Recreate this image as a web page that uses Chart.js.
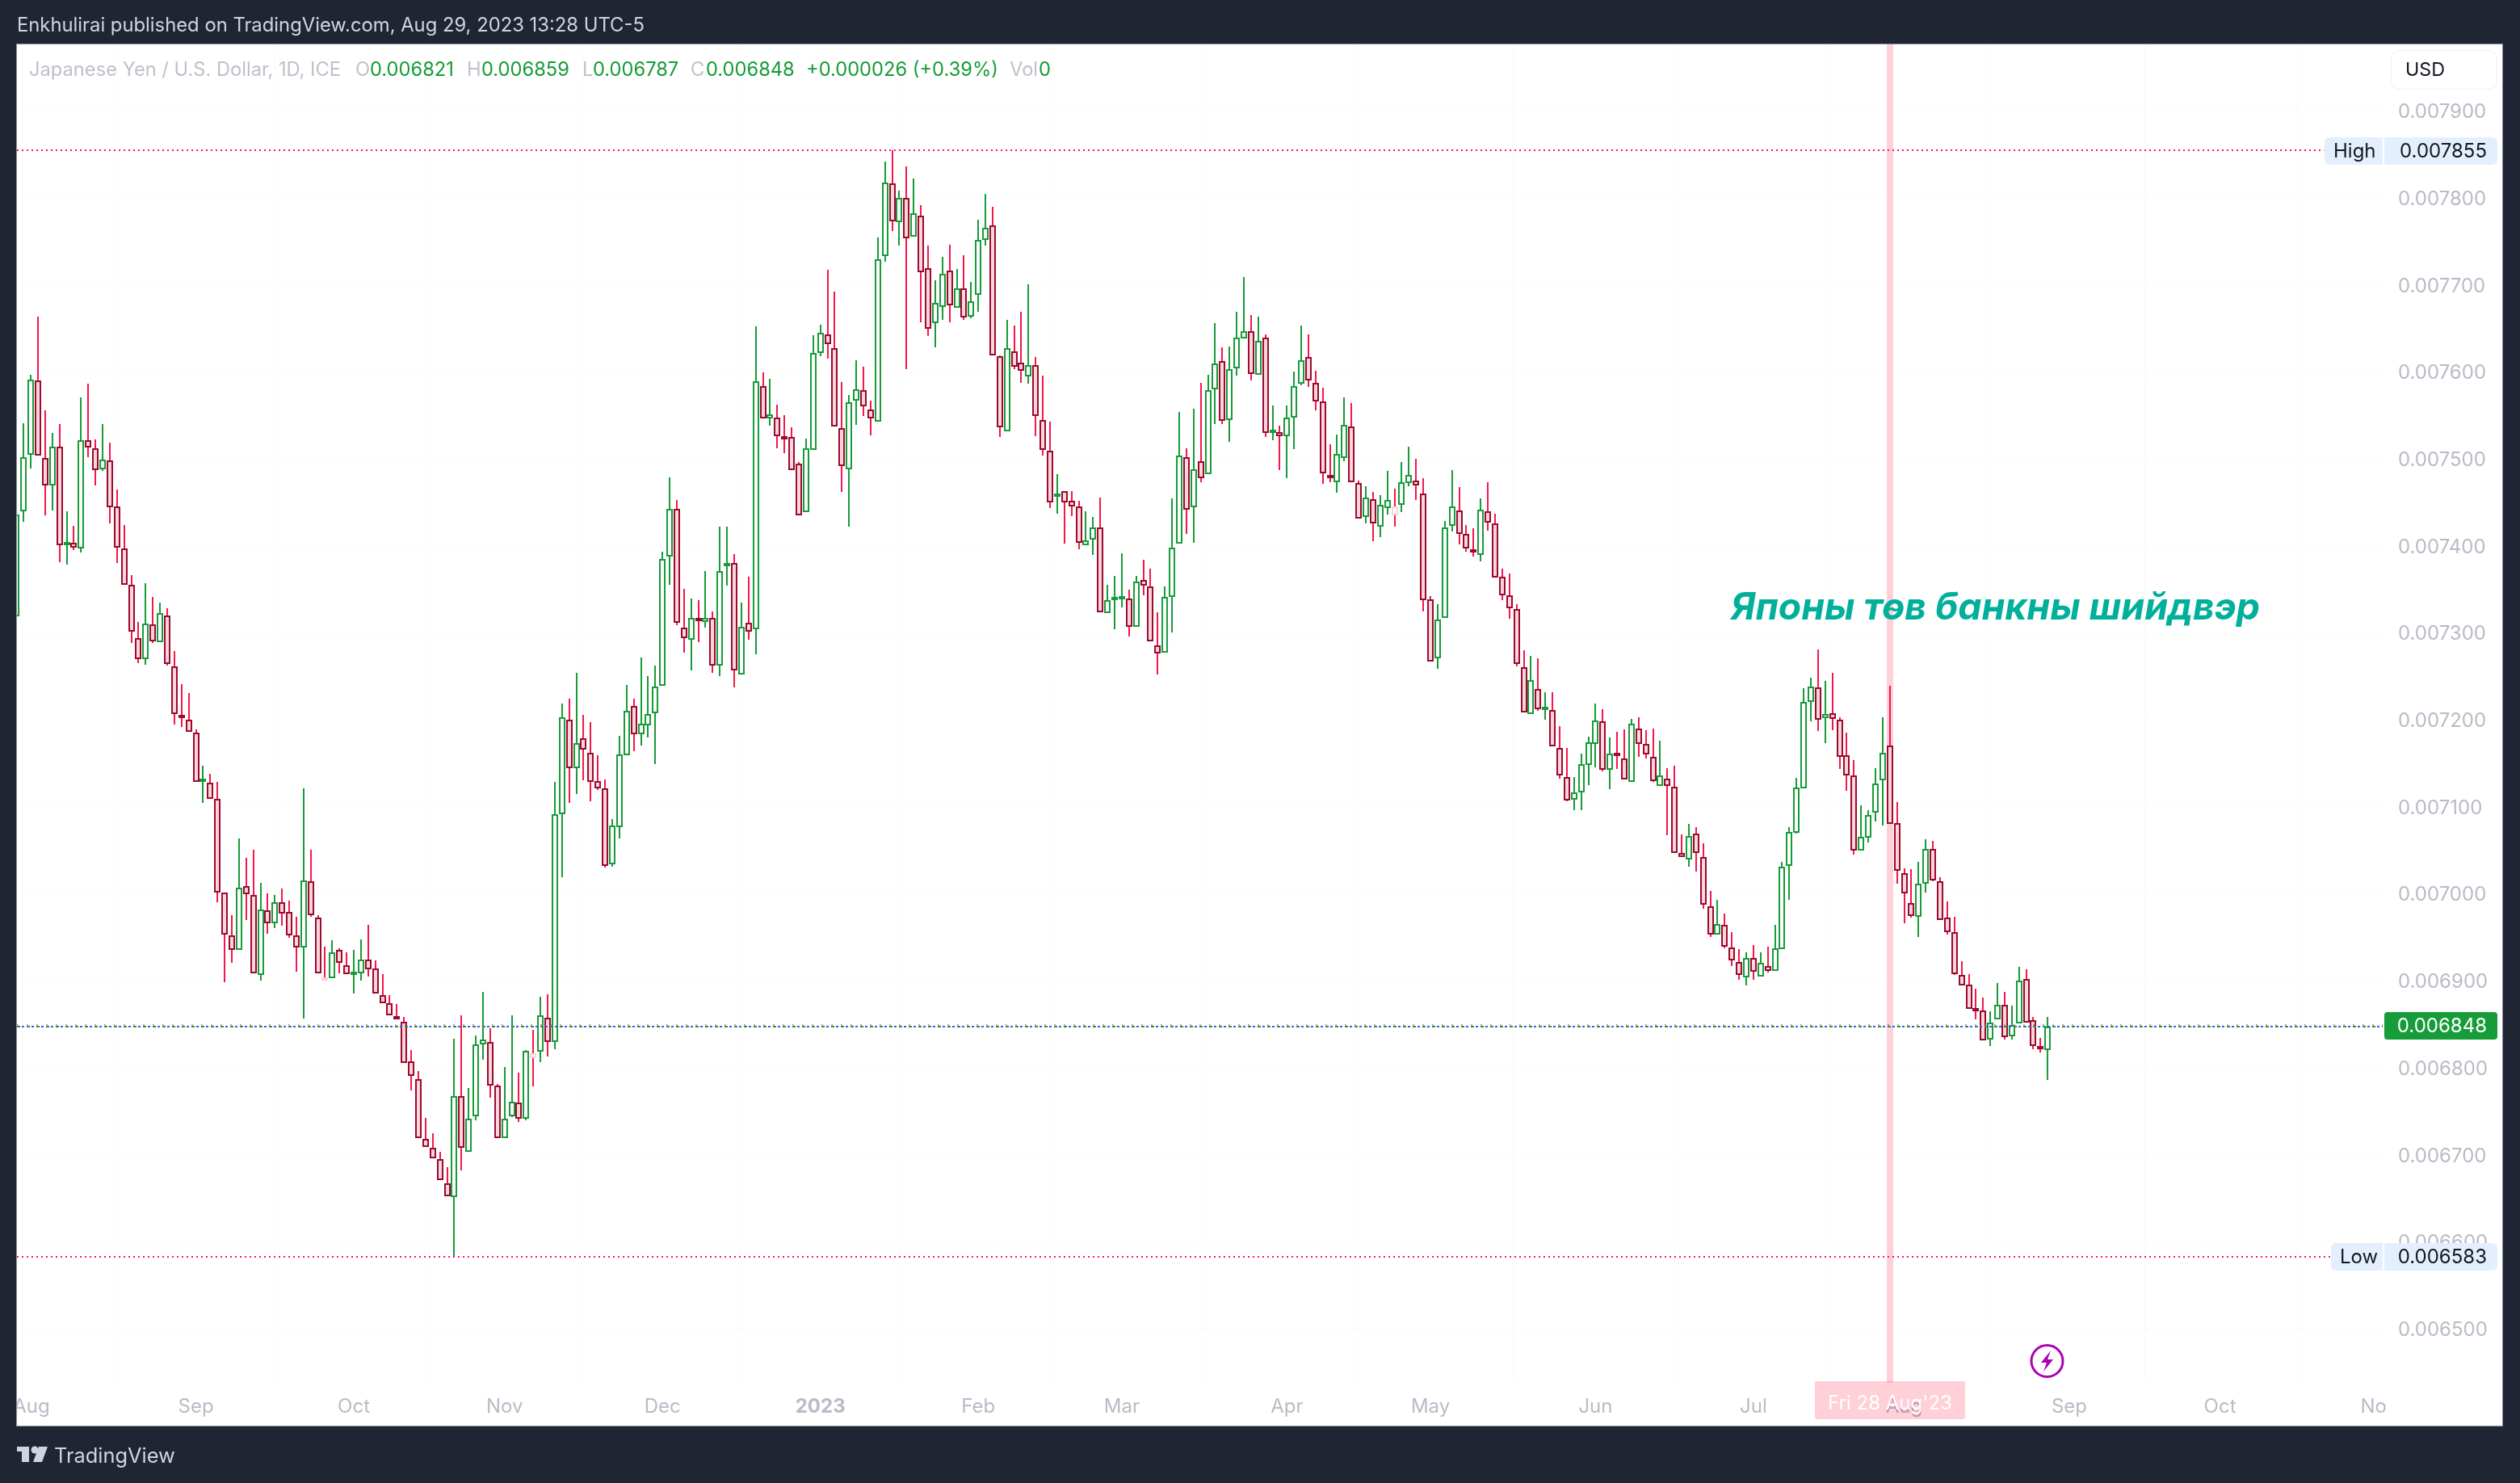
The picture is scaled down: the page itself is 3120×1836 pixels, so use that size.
<!DOCTYPE html>
<html><head><meta charset="utf-8">
<style>html,body{margin:0;padding:0;background:#1f2533}canvas{display:block}</style>
<script src="https://cdn.jsdelivr.net/npm/chart.js@4"></script>
</head><body><canvas id="c" width="3120" height="1836" style="width:3120px;height:1836px"></canvas>
<script>
// Prices in millionths of a USD per JPY
const priceUnit = 1e-6;
const opens = [7320,7440,7505,7591,7502,7470,7515,7401,7404,7398,7522,7513,7489,7499,7446,7398,7356,7295,7270,7310,7290,7321,7262,7205,7201,7186,7129,7128,7110,7002,6953,6936,7010,6999,6907,6982,6967,6991,6980,6953,6939,7015,6973,6904,6904,6936,6919,6907,6909,6925,6915,6884,6875,6859,6854,6808,6788,6719,6709,6696,6668,6652,6768,6704,6745,6828,6830,6780,6720,6745,6761,6742,6817,6819,6858,6830,7092,7201,7145,7179,7163,7130,7122,7035,7077,7160,7217,7184,7194,7208,7240,7388,7443,7307,7293,7317,7313,7318,7263,7377,7381,7253,7312,7305,7584,7547,7548,7527,7526,7495,7439,7511,7622,7644,7628,7536,7489,7568,7580,7557,7543,7734,7817,7773,7801,7756,7780,7720,7657,7675,7717,7674,7697,7664,7689,7752,7769,7619,7532,7624,7611,7595,7608,7545,7510,7457,7464,7452,7446,7401,7408,7422,7323,7338,7339,7340,7308,7361,7354,7286,7278,7342,7403,7503,7445,7498,7483,7581,7613,7545,7605,7639,7647,7597,7640,7530,7531,7527,7548,7587,7618,7588,7567,7480,7474,7502,7538,7473,7434,7454,7423,7444,7446,7448,7473,7476,7461,7339,7271,7318,7424,7441,7414,7395,7390,7440,7426,7365,7344,7328,7261,7207,7236,7212,7212,7168,7135,7109,7117,7149,7173,7199,7143,7161,7156,7129,7191,7173,7158,7125,7133,7124,7048,7040,7070,7043,6986,6954,6965,6939,6922,6905,6927,6906,6918,6912,6937,7033,7071,7122,7221,7238,7203,7208,7201,7160,7137,7050,7065,7094,7131,7171,7082,7024,6990,6974,7012,7052,7015,6973,6957,6907,6896,6869,6867,6833,6856,6873,6837,6852,6903,6855,6826,6821];
const highs = [7449,7542,7597,7664,7556,7530,7541,7440,7424,7571,7587,7523,7541,7519,7465,7425,7367,7313,7358,7342,7335,7329,7280,7242,7231,7190,7148,7139,7129,7002,6976,7064,7042,7051,7013,7001,6999,7007,6993,6974,7122,7051,6976,6940,6947,6938,6933,6936,6948,6965,6924,6908,6884,6874,6859,6821,6797,6743,6725,6704,6686,6834,6861,6777,6838,6888,6846,6782,6802,6861,6795,6821,6844,6882,6885,7129,7219,7225,7255,7206,7198,7160,7132,7087,7182,7241,7225,7272,7251,7263,7394,7479,7453,7351,7340,7338,7372,7325,7423,7423,7391,7335,7365,7653,7600,7593,7563,7551,7537,7497,7524,7643,7655,7718,7693,7589,7574,7614,7607,7568,7755,7842,7855,7809,7837,7823,7792,7746,7706,7733,7747,7719,7735,7704,7776,7805,7790,7620,7660,7654,7670,7701,7618,7596,7543,7483,7464,7464,7452,7440,7434,7456,7356,7366,7392,7350,7366,7385,7374,7324,7354,7455,7555,7513,7558,7588,7597,7657,7629,7630,7670,7710,7666,7664,7644,7562,7539,7562,7601,7654,7644,7602,7582,7517,7529,7571,7565,7476,7469,7463,7459,7487,7466,7497,7515,7501,7478,7343,7334,7429,7488,7468,7425,7421,7455,7474,7438,7374,7369,7334,7281,7274,7271,7232,7232,7193,7168,7135,7162,7181,7219,7213,7180,7187,7190,7202,7204,7189,7191,7177,7145,7148,7069,7081,7077,7059,7004,6994,6978,6957,6937,6933,6942,6933,6940,6965,7037,7077,7134,7237,7249,7282,7245,7255,7204,7186,7154,7102,7097,7145,7204,7240,7106,7030,7029,7037,7063,7062,7020,6992,6974,6923,6908,6892,6881,6866,6898,6888,6872,6917,6914,6859,6835,6859];
const lows = [7320,7428,7490,7504,7436,7441,7382,7379,7396,7393,7503,7470,7487,7426,7381,7356,7289,7266,7264,7289,7290,7263,7195,7192,7187,7129,7105,7110,6991,6899,6921,6936,6971,6909,6901,6955,6961,6964,6950,6911,6857,6974,6909,6901,6904,6909,6908,6886,6901,6906,6886,6875,6861,6856,6806,6775,6720,6710,6697,6672,6653,6583,6683,6704,6740,6810,6766,6720,6720,6744,6738,6740,6779,6807,6814,6822,7020,7105,7115,7131,7107,7120,7031,7032,7064,7160,7165,7171,7180,7150,7240,7356,7309,7278,7257,7290,7307,7255,7251,7355,7238,7253,7293,7276,7547,7539,7513,7507,7488,7436,7439,7511,7619,7616,7538,7463,7423,7540,7550,7528,7543,7727,7763,7746,7604,7756,7658,7642,7629,7660,7658,7674,7660,7662,7670,7746,7620,7526,7532,7604,7588,7587,7527,7504,7444,7438,7403,7435,7397,7401,7390,7324,7323,7305,7330,7296,7308,7344,7291,7253,7278,7301,7403,7414,7404,7474,7483,7541,7541,7520,7596,7639,7591,7597,7526,7522,7488,7478,7512,7585,7583,7556,7472,7474,7462,7498,7474,7432,7426,7406,7411,7437,7423,7439,7469,7453,7325,7268,7259,7318,7417,7402,7394,7388,7383,7418,7364,7338,7317,7262,7209,7207,7211,7201,7170,7133,7107,7097,7097,7126,7146,7141,7121,7144,7132,7129,7158,7156,7129,7125,7068,7048,7043,7032,7026,6984,6951,6954,6938,6918,6902,6895,6902,6906,6910,6912,6937,6994,7070,7122,7199,7188,7174,7189,7144,7119,7046,7050,7060,7084,7079,7081,7012,6967,6973,6951,7002,7015,6971,6954,6907,6895,6868,6856,6832,6826,6856,6833,6833,6852,6853,6822,6818,6787];
const closes = [7437,7503,7592,7504,7470,7515,7401,7404,7399,7522,7514,7488,7500,7445,7399,7356,7302,7270,7311,7291,7323,7265,7207,7203,7187,7129,7132,7110,7002,6954,6936,7008,7000,6909,6983,6967,6991,6978,6953,6939,7016,6976,6909,6901,6933,6921,6908,6908,6925,6914,6886,6875,6861,6856,6806,6791,6720,6710,6697,6672,6653,6768,6709,6742,6828,6833,6780,6720,6742,6762,6742,6820,6812,6861,6830,7092,7204,7145,7174,7166,7129,7122,7033,7079,7161,7211,7184,7196,7207,7239,7386,7443,7312,7295,7318,7314,7318,7263,7372,7380,7257,7308,7302,7590,7547,7552,7527,7523,7488,7436,7513,7622,7646,7633,7538,7492,7566,7581,7561,7547,7730,7818,7774,7801,7754,7783,7715,7650,7680,7713,7677,7697,7663,7682,7752,7766,7620,7537,7628,7607,7602,7608,7550,7511,7451,7461,7451,7446,7404,7407,7422,7324,7338,7339,7341,7308,7360,7355,7291,7277,7342,7399,7504,7442,7489,7478,7580,7610,7544,7604,7640,7647,7598,7636,7530,7531,7527,7548,7584,7614,7591,7567,7484,7478,7506,7540,7474,7432,7456,7426,7448,7453,7436,7474,7482,7470,7338,7268,7316,7422,7446,7414,7398,7393,7442,7427,7364,7344,7329,7265,7209,7246,7213,7216,7170,7137,7108,7117,7150,7175,7200,7143,7162,7159,7132,7196,7173,7161,7130,7137,7125,7048,7043,7067,7048,6988,6954,6966,6940,6924,6907,6927,6911,6921,6912,6938,7032,7072,7123,7221,7239,7201,7207,7202,7158,7137,7050,7066,7091,7127,7163,7081,7027,7001,6975,7012,7052,7016,6971,6957,6908,6895,6868,6866,6832,6853,6873,6836,6850,6901,6853,6826,6822,6848];
const paleCandles = [43, 72, 192];
const crosshairIndex = 261;
const monthTickLabels = ['Aug','Sep','Oct','Nov','Dec','2023','Feb','Mar','Apr','May','Jun','Jul','Aug','Sep','Oct','No'];
const monthTickIndex = [2.1,25,47,68,90,112,134,154,177,197,220,242,263,286,307,328.4];
const priceTickLabels = ['0.007900','0.007800','0.007700','0.007600','0.007500','0.007400','0.007300','0.007200','0.007100','0.007000','0.006900','0.006800','0.006700','0.006600','0.006500'];
const highPrice = 0.007855, lowPrice = 0.006583, lastPrice = 0.006848, lastPinkPrice = 0.006850;

const xMin = 0.07, xMax = 329.67, yMin = 0.0064385, yMax = 0.00797706;
const C = {dark:'#1f2533', up:'#169c38', wickDn:'#f5174b', bodyDn:'#990b2f', fillDn:'#ffd5dc', pale:'#ffd2da', grey:'#b9bbc6', ink:'#131722', pill:'#e3effd', hot:'#f7127a', blue:'#2962ff', teal:'#00b09b', purple:'#ab00b5', cross:'#ffd0d8'};
const FONT = 'Inter, "Noto Sans", sans-serif';
const isUp = i => closes[i] >= opens[i];
const isPale = i => paleCandles.includes(i);
const idx = opens.map((_, i) => i);

const snap = {
  id: 'snap',
  afterDatasetsUpdate(chart) {
    chart.getSortedVisibleDatasetMetas().forEach(meta => {
      meta.data.forEach(el => {
        if (meta.type === 'bar') {
          el.x = Math.round(el.x);
          el.y = Math.round(el.y);
          el.base = Math.round(el.base);
        } else {
          el.y = Math.round(el.y);
        }
      });
    });
  }
};

function rr(ctx, x, y, w, h, r, fill) {
  ctx.beginPath(); ctx.roundRect(x, y, w, h, r); ctx.fillStyle = fill; ctx.fill();
}
function txt(ctx, s, x, y, color, font, align) {
  ctx.font = font || ('24px ' + FONT); ctx.fillStyle = color; ctx.textAlign = align || 'left'; ctx.textBaseline = 'middle';
  ctx.fillText(s, x, y);
}
const frame = {
  id: 'frame',
  beforeDraw(chart) {
    const ctx = chart.ctx;
    chart.scales.y.getLabelItems().forEach(it => { if (!it.shifted) { it.options.translation = [it.options.translation[0], it.options.translation[1] + 1]; it.shifted = true; } });
    ctx.save();
    ctx.fillStyle = C.dark; ctx.fillRect(0, 0, 3120, 1836);
    ctx.fillStyle = '#ffffff'; ctx.fillRect(21, 55, 3077, 1710);
    ctx.restore();
  },
  afterDraw(chart) {
    const ctx = chart.ctx, ys = chart.scales.y;
    ctx.save();
    // pane edges
    ctx.fillStyle = C.dark; ctx.fillRect(0, 1700, 20, 80);
    ctx.strokeStyle = '#8d91a0'; ctx.lineWidth = 1; ctx.strokeRect(20.5, 54.5, 3078, 1711);
    // header & footer
    txt(ctx, 'Enkhulirai published on TradingView.com, Aug 29, 2023 13:28 UTC-5', 21, 32, '#d1d4dc', '23.8px ' + FONT);
    txt(ctx, 'TradingView', 67, 1803, '#d1d4dc', '25.4px ' + FONT);
    ctx.fillStyle = '#d1d4dc';
    ctx.fillRect(21, 1791, 15, 6); ctx.fillRect(27, 1791, 9, 19);
    ctx.beginPath(); ctx.arc(43, 1795, 4.5, 0, 7); ctx.fill();
    ctx.beginPath(); ctx.moveTo(48, 1791); ctx.lineTo(59, 1791); ctx.lineTo(52, 1810); ctx.lineTo(41, 1810); ctx.fill();
    // legend line
    const g = C.up, gr = '#bfc1ca', f = '23.7px ' + FONT;
    [['Japanese Yen / U.S. Dollar, 1D, ICE',36,gr],['O',440,gr],['0.006821',458,g],['H',578,gr],['0.006859',596,g],['L',721,gr],['0.006787',734,g],['C',855,gr],['0.006848',874,g],['+0.000026 (+0.39%)',998,g],['Vol',1250,gr],['0',1286,g]]
      .forEach(t => txt(ctx, t[0], t[1], 86.5, t[2], f));
    // USD button
    ctx.beginPath(); ctx.roundRect(2960.5, 62.5, 131, 48, 10); ctx.fillStyle = '#fff'; ctx.fill(); ctx.strokeStyle = '#eef0f5'; ctx.lineWidth = 1; ctx.stroke();
    txt(ctx, 'USD', 2978, 86.5, C.ink, '23.3px ' + FONT);
    // price pills
    const yH = Math.round(ys.getPixelForValue(highPrice)) + 1, yL = Math.round(ys.getPixelForValue(lowPrice)), yC = Math.round(ys.getPixelForValue(lastPrice));
    rr(ctx, 2878, yH - 17, 72, 34, [6,0,0,6], C.pill);
    rr(ctx, 2952, yH - 17, 140, 34, [0,6,6,0], C.pill);
    txt(ctx, 'High', 2889, yH + 1, C.ink); txt(ctx, '0.007855', 3079, yH + 1, C.ink, null, 'right');
    rr(ctx, 2886, yL - 17, 64, 34, [6,0,0,6], C.pill);
    rr(ctx, 2952, yL - 17, 140, 34, [0,6,6,0], C.pill);
    txt(ctx, 'Low', 2897, yL + 1, C.ink); txt(ctx, '0.006583', 3079, yL + 1, C.ink, null, 'right');
    rr(ctx, 2952, yC - 18, 140, 34, 4, C.up);
    txt(ctx, '0.006848', 3079, yC, '#ffffff', null, 'right');
    // annotation
    txt(ctx, 'Японы төв банкны шийдвэр', 2143, 753, C.teal, 'italic 700 46.3px ' + FONT);
    // crosshair date label
    ctx.globalCompositeOperation = 'multiply';
    rr(ctx, 2247, 1710, 186, 47, [0,0,3,3], C.cross);
    ctx.globalCompositeOperation = 'source-over';
    txt(ctx, "Fri 28 Aug'23", 2340, 1738, '#ffffff', null, 'center');
    // lightning icon
    ctx.beginPath(); ctx.arc(2534.5, 1685, 19.5, 0, 7); ctx.strokeStyle = C.purple; ctx.lineWidth = 3; ctx.stroke();
    ctx.beginPath();
    [[2539,1672],[2527,1687],[2534,1687],[2530,1698],[2542,1683],[2535,1683]].forEach((p,i)=> i ? ctx.lineTo(p[0],p[1]) : ctx.moveTo(p[0],p[1]));
    ctx.closePath(); ctx.fillStyle = C.purple; ctx.fill();
    ctx.restore();
  }
};

const px = v => v * priceUnit;
const hLine = (y, x1, color, dash, offset, width) => ({
  type:'line', order:0, parsing:false,
  data:[{x:xMin,y},{x:x1,y}],
  borderColor:color, borderWidth:width||2, borderDash:dash, borderDashOffset:offset||0,
  pointRadius:0, fill:false, tension:0
});

new Chart(document.getElementById('c'), {
  type:'bar',
  plugins:[snap, frame],
  data:{ datasets:[
    { label:'wick', order:2, grouped:false, barThickness:2, inflateAmount:0, borderWidth:0,
      data:idx.map(i=>({x:i,y:[px(lows[i]),px(highs[i])]})),
      backgroundColor:c=>isUp(c.dataIndex)?C.up:C.wickDn },
    { label:'body', order:1, grouped:false, barThickness:8, inflateAmount:0, borderWidth:2, borderSkipped:false, minBarLength:4,
      data:idx.map(i=>({x:i,y:[px(Math.min(opens[i],closes[i])),px(Math.max(opens[i],closes[i]))]})),
      borderColor:c=>isPale(c.dataIndex)?C.pale:(isUp(c.dataIndex)?C.up:C.bodyDn),
      backgroundColor:c=>isPale(c.dataIndex)?'#ffffff':(isUp(c.dataIndex)?'#ffffff':C.fillDn) },
    { label:'crosshair', order:5, grouped:false, barThickness:8, inflateAmount:0, borderWidth:0,
      data:[{x:crosshairIndex,y:[yMin,yMax]}], backgroundColor:C.cross },
    hLine(highPrice, 321.5, C.hot, [2,4]),
    hLine(lowPrice, 322.4, C.hot, [2,4]),
    hLine(lastPrice, xMax, C.up, [4,8], 0, 2),
    hLine(lastPrice, xMax, C.blue, [3,3], 0, 2),
    hLine(lastPinkPrice, xMax, C.hot, [2,10], 0, 1)
  ]},
  options:{
    responsive:false, animation:false, devicePixelRatio:1,
    layout:{padding:{left:21,right:22,top:55,bottom:71}},
    plugins:{legend:{display:false},tooltip:{enabled:false},title:{display:false}},
    scales:{
      x:{ type:'linear', position:'bottom', min:xMin, max:xMax, offset:false,
        afterBuildTicks(s){ s.ticks = monthTickIndex.map(value=>({value})); },
        afterFit(s){ s.height = 53; },
        grid:{color:'rgba(240,243,205,0.28)',lineWidth:1,drawTicks:false},
        border:{display:false},
        ticks:{ autoSkip:false, maxRotation:0, minRotation:0, padding:15, color:C.grey,
          font:c=>({family:FONT,size:24,weight:monthTickLabels[c.index]==='2023'?'700':'400'}),
          callback:(v,i)=>monthTickLabels[i] } },
      y:{ type:'linear', position:'right', min:yMin, max:yMax,
        afterBuildTicks(s){ s.ticks = priceTickLabels.map(l=>({value:parseFloat(l)})); },
        afterFit(s){ s.width = 148; },
        grid:{color:'rgba(240,243,205,0.28)',lineWidth:1,drawTicks:false},
        border:{display:false},
        ticks:{ autoSkip:false, padding:19, color:C.grey, font:{family:FONT,size:24},
          callback:(v,i)=>priceTickLabels[i] } }
    }
  }
});
</script></body></html>
